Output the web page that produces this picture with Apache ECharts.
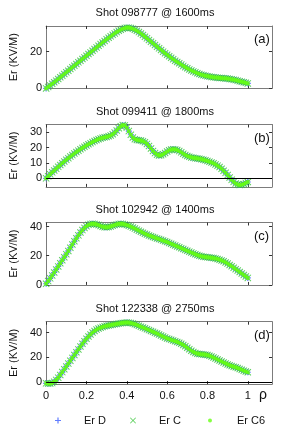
<!DOCTYPE html>
<html><head><meta charset="utf-8">
<script src="https://cdn.jsdelivr.net/npm/echarts@6/dist/echarts.min.js"></script>
<style>html,body{margin:0;padding:0;background:#fff}#c{width:282px;height:431px}</style>
</head><body><div id="c"></div>
<script>
// rho grid (x values)
const rho = [0,0.01,0.02,0.03,0.04,0.05,0.06,0.07,0.08,0.09,0.10,0.11,0.12,0.13,0.14,0.15,0.16,0.17,0.18,0.19,0.20,0.21,0.22,0.23,0.24,0.25,0.26,0.27,0.28,0.29,0.30,0.31,0.32,0.33,0.34,0.35,0.36,0.37,0.38,0.39,0.40,0.41,0.42,0.43,0.44,0.45,0.46,0.47,0.48,0.49,0.50,0.51,0.52,0.53,0.54,0.55,0.56,0.57,0.58,0.59,0.60,0.61,0.62,0.63,0.64,0.65,0.66,0.67,0.68,0.69,0.70,0.71,0.72,0.73,0.74,0.75,0.76,0.77,0.78,0.79,0.80,0.81,0.82,0.83,0.84,0.85,0.86,0.87,0.88,0.89,0.90,0.91,0.92,0.93,0.94,0.95,0.96,0.97,0.98,0.99,1.00];

// Panel titles and labels
const panelTitles = ['Shot 098777 @ 1600ms','Shot 099411 @ 1800ms','Shot 102942 @ 1400ms','Shot 122338 @ 2750ms'];
const panelTags = ['(a)','(b)','(c)','(d)'];
const seriesNames = ['Er D','Er C','Er C6'];
const xTicks = [0,0.2,0.4,0.6,0.8,1];
const yTicksA = [0,20];
const yTicksB = [0,10,20,30];
const yTicksC = [0,20,40];
const yTicksD = [0,20,40];
const yRangeA = [0,33.8];
const yRangeB = [-5.6,35.2];
const yRangeC = [0,42.8];
const yRangeD = [-1.6,48.9];

// Er profiles (kV/m)
const erA = [0,0.8,1.6,2.5,3.3,4.2,5.1,6.0,6.9,7.8,8.7,9.6,10.5,11.4,12.3,13.2,14.1,15.0,15.9,16.8,17.7,18.6,19.5,20.4,21.3,22.2,23.1,24.0,24.9,25.7,26.6,27.4,28.2,29.0,29.8,30.5,31.2,31.8,32.3,32.7,32.9,32.9,32.7,32.3,31.8,31.2,30.5,29.7,28.9,28.0,27.1,26.2,25.3,24.4,23.5,22.6,21.7,20.8,19.9,19.0,18.2,17.4,16.6,15.8,15.0,14.3,13.6,12.9,12.2,11.5,10.9,10.3,9.7,9.2,8.7,8.2,7.8,7.4,7.1,6.8,6.6,6.4,6.2,6.0,5.9,5.8,5.7,5.6,5.5,5.4,5.3,5.1,4.9,4.7,4.5,4.2,3.9,3.6,3.3,3.0,2.7];
const erB = [0,1.3,2.6,3.9,5.1,6.3,7.5,8.7,9.9,11.0,12.1,13.2,14.2,15.2,16.2,17.2,18.1,19.0,19.9,20.7,21.5,22.3,23.0,23.7,24.4,25.0,25.6,26.1,26.5,26.8,27.1,27.5,28.0,28.8,29.9,31.3,32.8,34.1,34.8,34.6,33.2,30.9,28.5,26.7,25.6,25.1,24.9,24.7,24.3,23.6,22.5,21.1,19.5,17.9,16.5,15.5,15.0,15.1,15.7,16.6,17.5,18.3,18.8,19.0,18.9,18.5,17.8,17.0,16.1,15.3,14.6,14.1,13.7,13.4,13.2,13.0,12.8,12.5,12.2,11.8,11.4,10.9,10.4,9.8,9.1,8.3,7.4,6.3,5.0,3.6,2.1,0.5,-1.0,-2.3,-3.4,-4.1,-4.4,-4.2,-3.7,-3.0,-2.4];
const erC = [0.8,2.6,4.5,6.5,8.5,10.6,12.7,14.8,16.9,19.0,21.1,23.3,25.5,27.7,29.9,32.0,34.0,35.9,37.6,39.1,40.3,41.2,41.7,41.9,41.8,41.5,41.0,40.4,39.9,39.6,39.5,39.7,40.1,40.6,41.1,41.5,41.8,41.9,41.8,41.5,41.1,40.6,40.0,39.3,38.6,37.9,37.2,36.5,35.8,35.1,34.5,33.9,33.4,32.9,32.4,31.9,31.4,30.9,30.4,29.9,29.4,28.8,28.2,27.6,27.0,26.4,25.8,25.2,24.6,24.0,23.4,22.8,22.2,21.6,21.0,20.5,20.0,19.6,19.3,19.1,18.9,18.8,18.6,18.4,18.1,17.8,17.3,16.8,16.2,15.4,14.6,13.7,12.8,11.8,10.8,9.8,8.8,7.8,6.8,5.8,4.8];
const erDd = [-1.0,-1.2,-1.2,-0.8,0.3,1.8,3.6,5.8,8.1,10.4,12.7,15.0,17.3,19.6,21.9,24.2,26.5,28.8,31.0,33.1,35.1,36.9,38.6,40.1,41.4,42.5,43.4,44.1,44.7,45.2,45.6,45.9,46.2,46.5,46.8,47.1,47.4,47.7,47.9,48.1,48.2,48.1,47.8,47.4,46.9,46.3,45.6,44.9,44.2,43.5,42.8,42.1,41.4,40.7,40.0,39.3,38.5,37.7,36.9,36.1,35.4,34.8,34.2,33.7,33.1,32.5,31.8,31.0,30.1,29.0,27.8,26.6,25.4,24.4,23.6,23.0,22.7,22.5,22.4,22.2,21.9,21.4,20.7,19.9,19.1,18.3,17.5,16.7,15.9,15.1,14.3,13.6,13.0,12.5,12.0,11.4,10.7,10.0,9.3,8.6,8.0];

const panels = [
  {er: erA, ticks: yTicksA, range: yRangeA, zero:false},
  {er: erB, ticks: yTicksB, range: yRangeB, zero:true},
  {er: erC, ticks: yTicksC, range: yRangeC, zero:false},
  {er: erDd, ticks: yTicksD, range: yRangeD, zero:true}
];

const FONT = '"Liberation Sans", Arial, sans-serif';
const TXT = '#111';
const FRAME = '#7c7c7c';
const gridTops = [26, 124.5, 222.5, 321.7];
const gridH = 62.4;
const titleY = [7.5, 106, 204.5, 303.5];
const colD = '#3a5cff', colC = '#33c433', colC6 = '#66ff14';
const symPlus = 'path://M4,0H6V4H10V6H6V10H4V6H0V4H4Z';
const symCross = 'path://M1,0L5,4L9,0L10,1L6,5L10,9L9,10L5,6L1,10L0,9L4,5L0,1Z';

const grid = [], xAxis = [], yAxis = [], series = [], title = [], graphic = [];
panels.forEach((p, i) => {
  grid.push({left: 39, right: 10, top: gridTops[i], height: gridH});
  title.push({text: panelTitles[i], left: 155, top: titleY[i], textAlign: 'center', padding: 0,
    textStyle: {fontFamily: FONT, fontSize: 11, fontWeight: 'normal', color: TXT}});
  const isLast = i === panels.length - 1;
  xAxis.push({type: 'value', gridIndex: i, min: 0, max: 1.12, position: 'bottom',
    axisLine: {show: true, onZero: false, lineStyle: {color: FRAME, width: 1}},
    axisTick: {show: true, inside: true, length: 3, customValues: xTicks, lineStyle: {color: '#333'}},
    axisLabel: {show: isLast, customValues: xTicks, margin: 6, fontFamily: FONT, fontSize: 11, color: TXT,
      formatter: v => String(v)},
    splitLine: {show: false}});
  xAxis.push({type: 'value', gridIndex: i, min: 0, max: 1.12, position: 'top',
    axisLine: {show: true, onZero: false, lineStyle: {color: FRAME, width: 1}},
    axisTick: {show: true, inside: true, length: 3, customValues: xTicks, lineStyle: {color: '#333'}},
    axisLabel: {show: false}, splitLine: {show: false}});
  yAxis.push({type: 'value', gridIndex: i, min: p.range[0], max: p.range[1], position: 'left',
    name: 'Er (KV/M)', nameLocation: 'middle', nameGap: 24, nameRotate: 90,
    nameTextStyle: {fontFamily: FONT, fontSize: 11, color: TXT},
    axisLine: {show: true, onZero: false, lineStyle: {color: FRAME, width: 1}},
    axisTick: {show: true, inside: true, length: 3, customValues: p.ticks, lineStyle: {color: '#333'}},
    axisLabel: {show: true, customValues: p.ticks, margin: 4, fontFamily: FONT, fontSize: 11, color: TXT},
    splitLine: {show: false}});
  yAxis.push({type: 'value', gridIndex: i, min: p.range[0], max: p.range[1], position: 'right',
    axisLine: {show: true, onZero: false, lineStyle: {color: FRAME, width: 1}},
    axisTick: {show: true, inside: true, length: 3, customValues: p.ticks, lineStyle: {color: '#333'}},
    axisLabel: {show: false}, splitLine: {show: false}});
  const data = rho.map((x, k) => [x, p.er[k]]);
  const base = {type: 'scatter', xAxisIndex: 2*i, yAxisIndex: 2*i, data: data, silent: true, animation: false};
  const sD = Object.assign({}, base, {name: 'Er D', symbol: symPlus, symbolSize: 6, itemStyle: {color: colD}, z: 2});
  if (p.zero) {
    sD.markLine = {silent: true, symbol: 'none', animation: false, label: {show: false},
      lineStyle: {color: '#000', type: 'solid', width: 1}, data: [{yAxis: 0}]};
  }
  series.push(sD);
  series.push(Object.assign({}, base, {name: 'Er C', symbol: symCross, symbolSize: 7, itemStyle: {color: colC}, z: 3}));
  series.push(Object.assign({}, base, {name: 'Er C6', symbol: 'circle', symbolSize: 4.2, itemStyle: {color: colC6}, z: 4}));
  graphic.push({type: 'text', left: 254, top: gridTops[i] + 7, style: {text: panelTags[i], font: '13px ' + FONT, fill: TXT}});
});
graphic.push({type: 'text', left: 259, top: 388, style: {text: 'ρ', font: '14px ' + FONT, fill: TXT}});

const legendX = [55, 130, 208];
const legendIcons = [symPlus, symCross, 'circle'];
const legendSizes = [6, 6, 4];
const legend = seriesNames.map((n, j) => ({
  left: legendX[j], top: 415, orient: 'horizontal', padding: 0,
  itemWidth: legendSizes[j], itemHeight: legendSizes[j],
  data: [{name: n, icon: legendIcons[j]}],
  textStyle: {fontFamily: FONT, fontSize: 11, color: TXT, padding: [0, 0, 0, 18 + (6 - legendSizes[j])]},
  selectedMode: false
}));

const chart = echarts.init(document.getElementById('c'), null, {renderer: 'canvas'});
chart.setOption({animation: false, backgroundColor: '#fff', title, grid, xAxis, yAxis, series, legend, graphic});
</script></body></html>
